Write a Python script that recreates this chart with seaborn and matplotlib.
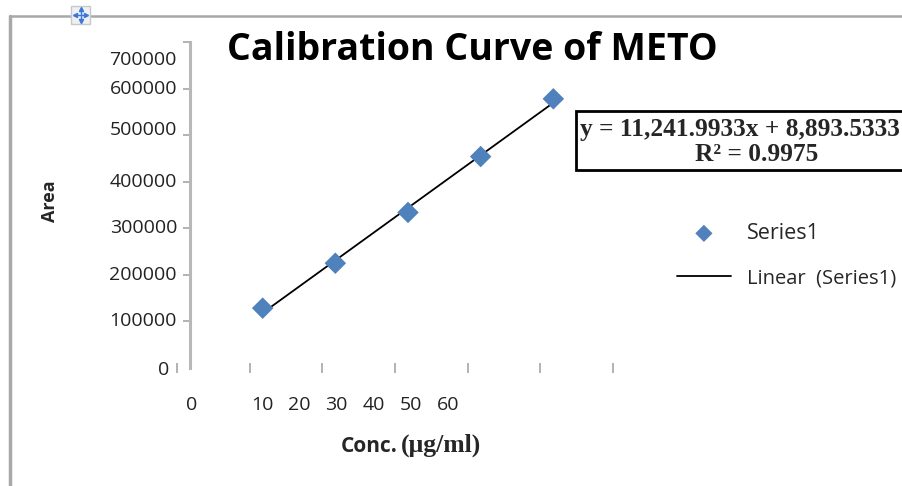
import numpy as np
import pandas as pd
import matplotlib
matplotlib.use("Agg")
import matplotlib.pyplot as plt
import matplotlib.transforms as mtransforms
from matplotlib.patches import Rectangle
from matplotlib.lines import Line2D
import seaborn as sns

# calibration data
conc = [10, 20, 30, 40, 50]
area = [128500, 225000, 334000, 454000, 578000]

y_ticks = [100000, 200000, 300000, 400000, 500000, 600000, 700000]
y_labels = [0, 100000, 200000, 300000, 400000, 500000, 600000, 700000]
x_ticks = [0, 10, 20, 30, 40, 50, 60]
x_labels = ["0", "10", "20", "30", "40", "50", "60"]

title = "Calibration Curve of METO"
equation = "y = 11,241.9933x + 8,893.5333"
r_squared = "R² = 0.9975"

BLUE = "#4F81BD"
GREY = "#A6A6A6"
SANS = ["Open Sans", "DejaVu Sans"]
SERIF = ["Liberation Serif", "DejaVu Serif"]

sns.set_style("white")
plt.rcParams["font.family"] = SANS

W, H = 903, 486
fig = plt.figure(figsize=(W / 100, H / 100), dpi=100)


def fx(px):
    return px / W


def fy(py):
    return 1 - py / H


# main plot area: x=0 at px 190, x=60 at px 626; y=0 at px 368, y=700000 at px 42
ax = fig.add_axes([fx(190), fy(368), (626 - 190) / W, (368 - 42) / H])
df = pd.DataFrame({"conc": conc, "area": area})
slope, icpt = np.polyfit(df["conc"], df["area"], 1)
df["fit"] = slope * df["conc"] + icpt

sns.lineplot(data=df, x="conc", y="fit", color="black", lw=1.3, ax=ax,
             label="Linear  (Series1)", zorder=2)
sns.scatterplot(data=df, x="conc", y="area", marker="D", s=120, color=BLUE,
                edgecolor="none", ax=ax, label="Series1", zorder=3)

ax.set_xlim(0, 60)
ax.set_ylim(0, 700000)
ax.set_xlabel("")
ax.set_ylabel("")
for s in ["top", "right", "bottom"]:
    ax.spines[s].set_visible(False)
ax.spines["left"].set_color("#B8B8B8")
ax.spines["left"].set_linewidth(2.2)
ax.set_xticks([])
ax.set_yticks(y_ticks)
ax.set_yticklabels([])
ax.tick_params(axis="y", left=True, length=5, width=1.2, color=GREY,
               direction="out")

# y labels (the original has a couple slightly off their ticks)
nudge = {0: (-8, -2), 500000: (0, 5), 700000: (0, -18)}
for v in y_labels:
    dx, dy = nudge.get(v, (0, 0))
    tr = mtransforms.offset_copy(ax.get_yaxis_transform(), fig=fig,
                                 x=-13 + dx, y=dy, units="dots")
    ax.text(0, v, str(v), transform=tr, ha="right", va="center",
            fontsize=14, color="#222222")

# x tick marks sit a little left of the values in the original
ax2 = fig.add_axes([fx(177), fy(368), (626 - 190) / W, (368 - 42) / H])
ax2.set_facecolor("none")
for s in ax2.spines.values():
    s.set_visible(False)
ax2.set_xlim(0, 60)
ax2.set_xticks(x_ticks)
ax2.set_xticklabels([])
ax2.set_yticks([])
ax2.tick_params(axis="x", bottom=True, length=7, width=1.2, color=GREY,
                direction="inout")

# x labels: "0" under the axis, the rest squeezed together
for i, lab in enumerate(x_labels):
    if i == 0:
        tr = mtransforms.offset_copy(ax.get_xaxis_transform(), fig=fig,
                                     x=2, y=-37, units="dots")
        xv = 0
    else:
        tr = mtransforms.offset_copy(ax.get_xaxis_transform(), fig=fig,
                                     x=37 * (i - 1), y=-37, units="dots")
        xv = 10
    ax.text(xv, 0, lab, transform=tr, ha="center", va="center",
            fontsize=14, color="#222222")

# legend
handles, labels = ax.get_legend_handles_labels()
order = [labels.index("Series1"), labels.index("Linear  (Series1)")]
leg = ax.legend([handles[i] for i in order], [labels[i] for i in order],
                loc="upper left", bbox_to_anchor=(fx(677), fy(223)),
                bbox_transform=fig.transFigure, frameon=False,
                handlelength=2.5, handletextpad=0.75, labelspacing=1.15,
                borderpad=0, borderaxespad=0, markerscale=0.8,
                prop={"size": 15.5})
leg.get_texts()[1].set_fontsize(14.5)

# titles
fig.text(fx(472), fy(50), title, ha="center", va="center",
         fontsize=27, weight="bold", color="black")
fig.text(fx(50), fy(201), "Area", rotation=90, ha="center", va="center",
         fontsize=13, weight="bold")
fig.text(fx(398), fy(452), "Conc.", ha="right", va="baseline",
         fontsize=15, weight="bold")
fig.text(fx(401), fy(452), "(μg/ml)", ha="left", va="baseline",
         fontsize=18.5, weight="bold", family=SERIF)

# equation box
fig.add_artist(Rectangle((fx(578), fy(172)), 340 / W, 59 / H,
                         transform=fig.transFigure, facecolor="#BBBBBB",
                         edgecolor="none", zorder=4))
fig.add_artist(Rectangle((fx(576), fy(170)), 340 / W, 59 / H,
                         transform=fig.transFigure, facecolor="white",
                         edgecolor="black", lw=2, zorder=5))
fig.text(fx(580), fy(136), equation, ha="left", va="baseline", fontsize=18.3,
         weight="bold", family=SERIF, zorder=6)
fig.text(fx(757), fy(161), r_squared, ha="center", va="baseline",
         fontsize=18.3, weight="bold", family=SERIF, zorder=6)

# page frame and the little move handle in the corner
fig.add_artist(Line2D([fx(10), fx(10)], [fy(16), 0], color="#A8A8A8", lw=2.5))
fig.add_artist(Line2D([fx(10), 1], [fy(16), fy(16)], color="#A8A8A8", lw=1.8))
fig.add_artist(Rectangle((fx(71), fy(24)), 19 / W, 18 / H,
                         transform=fig.transFigure, facecolor="#EEF0F4",
                         edgecolor="#C8C8C8", lw=1, zorder=6))
fig.add_artist(Line2D([fx(75), fx(86)], [fy(15), fy(15)], color="#3C78D8",
                      lw=1, zorder=7))
fig.add_artist(Line2D([fx(80.5), fx(80.5)], [fy(9), fy(21)], color="#3C78D8",
                      lw=1, zorder=7))
for mk, (px, py) in zip(["<", ">", "^", "v"],
                        [(75, 15), (86, 15), (80.5, 9), (80.5, 21)]):
    fig.add_artist(Line2D([fx(px)], [fy(py)], marker=mk, ms=3,
                          color="#3C78D8", zorder=7))

fig.savefig("out.png", dpi=100)
